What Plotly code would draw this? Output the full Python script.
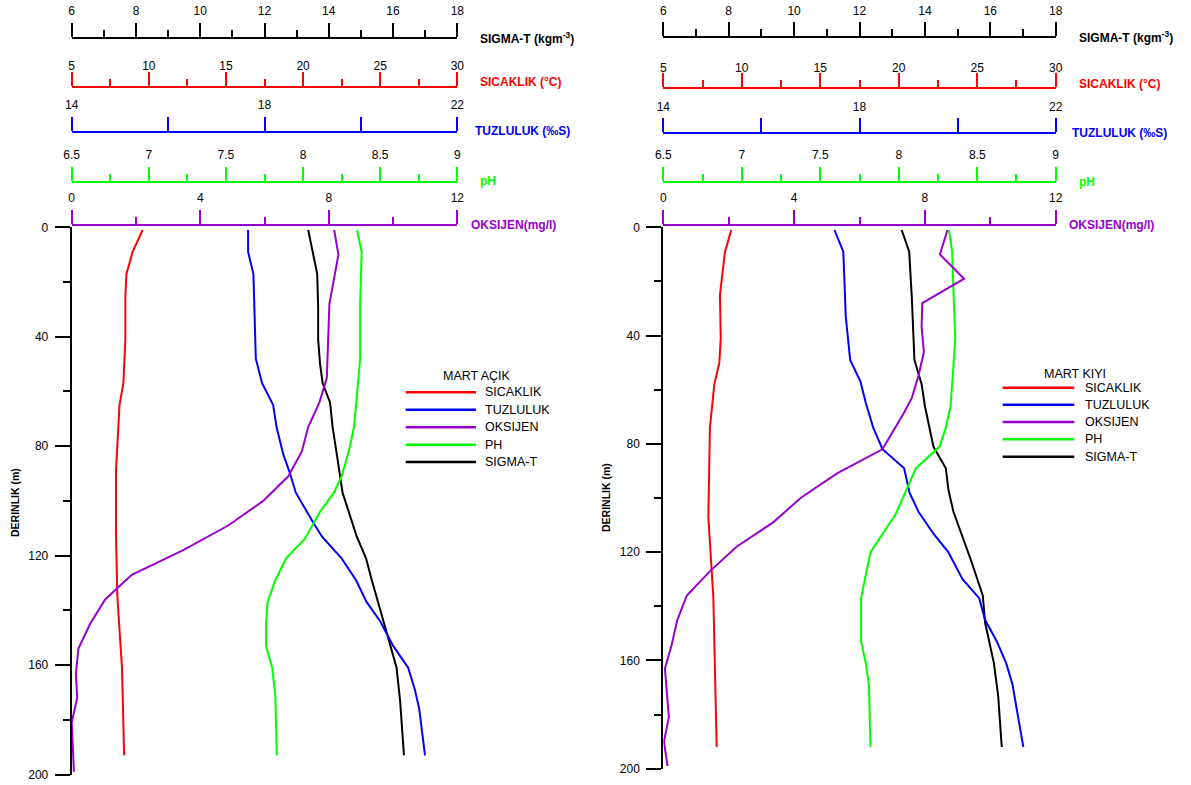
import plotly.graph_objects as go

W, H = 1191, 785
FONT = "Liberation Sans, Arial, sans-serif"

# ---------------- DATA: MART AÇIK (left panel) ----------------
acik_sic_depth = [1, 9, 17, 25, 41, 57, 65, 89, 112, 135, 161, 193]
acik_sic = [9.6, 8.95, 8.55, 8.48, 8.48, 8.35, 8.1, 7.87, 7.87, 7.96, 8.26, 8.4]

acik_tuz_depth = [1, 9, 17, 48, 57, 65, 73, 83, 90, 97, 107, 113, 121, 129, 137, 144, 153, 161, 169, 176, 193]
acik_tuz = [17.66, 17.66, 17.77, 17.82, 17.95, 18.18, 18.25, 18.39, 18.53, 18.65, 18.98, 19.19, 19.6, 19.9,
            20.12, 20.4, 20.67, 20.98, 21.12, 21.21, 21.33]

acik_ph_depth = [1, 9, 28, 48, 61, 73, 81, 91, 97, 104, 114, 121, 129, 137, 145, 153, 161, 171, 193]
acik_ph = [8.35, 8.38, 8.37, 8.37, 8.35, 8.33, 8.30, 8.25, 8.2, 8.11, 8.01, 7.89, 7.82, 7.77, 7.76, 7.76,
           7.80, 7.82, 7.83]

acik_sig_depth = [1, 9, 17, 29, 41, 50, 57, 64, 73, 83, 97, 113, 121, 129, 137, 148, 161, 173, 193]
acik_sig = [13.36, 13.5, 13.64, 13.67, 13.67, 13.73, 13.81, 14.04, 14.12, 14.25, 14.43, 14.87, 15.16, 15.34,
            15.54, 15.8, 16.11, 16.22, 16.34]

acik_oks_depth = [1, 10, 28, 55, 64, 73, 82, 91, 100, 109, 118, 127, 136, 145, 154, 163, 172, 181, 199]
acik_oks = [8.17, 8.3, 8.02, 7.94, 7.71, 7.36, 7.16, 6.74, 5.96, 4.87, 3.47, 1.87, 1.04, 0.57, 0.21, 0.13,
            0.17, 0.0, 0.07]

# ---------------- DATA: MART KIYI (right panel) ----------------
kiyi_sic_depth = [1, 9, 25, 41, 50, 58, 74, 107, 137, 192]
kiyi_sic = [9.33, 8.93, 8.61, 8.66, 8.57, 8.25, 7.97, 7.87, 8.19, 8.4]

kiyi_tuz_depth = [1, 9, 33, 49, 57, 65, 74, 82, 89, 98, 105, 113, 120, 130, 137, 145, 153, 161, 169, 177, 192]
kiyi_tuz = [17.49, 17.67, 17.72, 17.81, 18.02, 18.13, 18.28, 18.47, 18.91, 19.02, 19.2, 19.5, 19.81, 20.1,
            20.44, 20.56, 20.8, 20.99, 21.12, 21.2, 21.34]

kiyi_ph_depth = [1, 9, 26, 41, 50, 66, 74, 81, 89, 106, 120, 137, 153, 161, 169, 192]
kiyi_ph = [8.32, 8.34, 8.35, 8.36, 8.35, 8.33, 8.3, 8.26, 8.11, 7.98, 7.82, 7.76, 7.76, 7.79, 7.81, 7.82]

kiyi_sig_depth = [1, 9, 26, 38, 49, 58, 66, 81, 89, 97, 105, 122, 136, 146, 161, 173, 192]
kiyi_sig = [13.29, 13.52, 13.6, 13.63, 13.68, 13.9, 14.0, 14.26, 14.64, 14.72, 14.87, 15.38, 15.77, 15.84,
            16.11, 16.24, 16.35]

kiyi_oks_depth = [1, 10, 19, 28, 37, 46, 55, 63, 69, 73, 82, 91, 100, 109, 118, 127, 136, 145, 154, 163, 181, 190, 199]
kiyi_oks = [8.69, 8.46, 9.2, 7.92, 7.9, 7.97, 7.8, 7.6, 7.34, 7.14, 6.7, 5.3, 4.2, 3.36, 2.24, 1.43, 0.72,
            0.43, 0.26, 0.05, 0.17, 0.02, 0.13]

# ---------------- AXIS / LABEL TEXT ----------------
legend_names = ["SICAKLIK", "TUZLULUK", "OKSIJEN", "PH", "SIGMA-T"]
panel_titles = ["MART AÇIK", "MART KIYI"]
axis_titles = ["SIGMA-T (kgm<sup>-3</sup>)", "SICAKLIK (°C)", "TUZLULUK (‰S)", "pH", "OKSIJEN(mg/l)"]
depth_title = "DERINLIK (m)"

RED, BLUE, PURPLE, GREEN, BLACK = "#FF0000", "#0000FF", "#9900CC", "#00FF00", "#000000"


def px(x):
    return x / W


def py(y):
    return 1 - y / H


fig = go.Figure()


def add_panel(ax_ids, yid, data, names):
    # ax_ids: [sigma, sic, tuz, ph, oks]
    (sig_d, sig), (sic_d, sic), (tuz_d, tuz), (ph_d, ph), (oks_d, oks) = data
    order = [
        (sic, sic_d, ax_ids[1], RED, names[0]),
        (tuz, tuz_d, ax_ids[2], BLUE, names[1]),
        (oks, oks_d, ax_ids[4], PURPLE, names[2]),
        (ph, ph_d, ax_ids[3], GREEN, names[3]),
        (sig, sig_d, ax_ids[0], BLACK, names[4]),
    ]
    for vals, depth, xa, col, nm in order:
        fig.add_trace(go.Scatter(x=vals, y=depth, xaxis=xa, yaxis=yid, mode="lines",
                                 line=dict(color=col, width=2), name=nm, showlegend=False,
                                 cliponaxis=False))


add_panel(["x", "x2", "x3", "x4", "x5"], "y",
          [(acik_sig_depth, acik_sig), (acik_sic_depth, acik_sic), (acik_tuz_depth, acik_tuz),
           (acik_ph_depth, acik_ph), (acik_oks_depth, acik_oks)], legend_names)
add_panel(["x6", "x7", "x8", "x9", "x10"], "y2",
          [(kiyi_sig_depth, kiyi_sig), (kiyi_sic_depth, kiyi_sic), (kiyi_tuz_depth, kiyi_tuz),
           (kiyi_ph_depth, kiyi_ph), (kiyi_oks_depth, kiyi_oks)], legend_names)


def top_axis(color, rng, dtick, mdtick, pos, dom, overlay, mlen, standoff, tickvals=None):
    d = dict(range=rng, domain=dom, side="top", anchor="free", position=pos,
             showline=True, linecolor=color, linewidth=2, automargin=False,
             ticks="outside", ticklen=14, tickwidth=2, tickcolor=color,
             showgrid=False, zeroline=False, fixedrange=True,
             ticklabelstandoff=standoff,
             tickfont=dict(family=FONT, size=12, color="black"),
             minor=dict(ticks="outside", dtick=mdtick, tick0=rng[0], ticklen=mlen,
                        tickwidth=2, tickcolor=color, showgrid=False))
    if tickvals is not None:
        d["tickmode"] = "array"
        d["tickvals"] = tickvals
    else:
        d["tick0"] = rng[0]
        d["dtick"] = dtick
    if overlay:
        d["overlaying"] = overlay
    return d


def y_axis(dom, anchor):
    return dict(range=[200, 0], domain=dom, anchor=anchor, side="left", automargin=False,
                showline=True, linecolor="black", linewidth=2,
                ticks="outside", ticklen=15, tickwidth=2, tickcolor="black",
                tick0=0, dtick=40, showgrid=False, zeroline=False, fixedrange=True,
                tickfont=dict(family=FONT, size=12, color="black"),
                ticklabelstandoff=4,
                minor=dict(ticks="outside", dtick=20, tick0=0, ticklen=7, tickwidth=2,
                           tickcolor="black", showgrid=False))


L_dom = [px(71.7), px(457.3)]
R_dom = [px(663.3), px(1055.7)]
L_pos = [py(37.7), py(86.7), py(131.7), py(181.7), py(225)]
R_pos = [py(37.3), py(88.3), py(133.3), py(181.7), py(225)]

layout_axes = {}
for ids, dom, pos, base in [(["xaxis", "xaxis2", "xaxis3", "xaxis4", "xaxis5"], L_dom, L_pos, "x"),
                            (["xaxis6", "xaxis7", "xaxis8", "xaxis9", "xaxis10"], R_dom, R_pos, "x6")]:
    layout_axes[ids[0]] = top_axis(BLACK, [6, 18], 2, 1, pos[0], dom, None, 7, 3)
    layout_axes[ids[1]] = top_axis(RED, [5, 30], 5, 2.5, pos[1], dom, base, 7, -3)
    layout_axes[ids[2]] = top_axis(BLUE, [14, 22], None, 2, pos[2], dom, base, 14, 3, tickvals=[14, 18, 22])
    layout_axes[ids[3]] = top_axis(GREEN, [6.5, 9], 0.5, 0.25, pos[3], dom, base, 7, 3)
    layout_axes[ids[4]] = top_axis(PURPLE, [0, 12], 4, 2, pos[4], dom, base, 7, 3)

layout_axes["yaxis"] = y_axis([py(774.5), py(227.3)], "x")
layout_axes["yaxis2"] = y_axis([py(768.7), py(227.3)], "x6")

annotations = []
shapes = []

# right-hand axis titles
title_cols = [BLACK, RED, BLUE, GREEN, PURPLE]
L_tpos = [(478, 37.7), (478, 81.7), (473, 131), (478, 181), (469, 225)]
R_tpos = [(1077, 37.3), (1077, 84), (1070, 133.3), (1077, 181.7), (1067, 225)]
for tpos in (L_tpos, R_tpos):
    for (tx, ty), txt, col in zip(tpos, axis_titles, title_cols):
        annotations.append(dict(x=px(tx), y=py(ty), xref="paper", yref="paper", text="<b>" + txt + "</b>",
                                showarrow=False, xanchor="left", yanchor="middle",
                                font=dict(family=FONT, size=12, color=col)))

# depth titles
for tx, ty in [(15, 503), (606, 498)]:
    annotations.append(dict(x=px(tx), y=py(ty), xref="paper", yref="paper", text="<b>" + depth_title + "</b>",
                            showarrow=False, textangle=-90, xanchor="center", yanchor="middle",
                            font=dict(family=FONT, size=10.5, color="black")))

# legends (drawn manually to match long line samples)
leg_cols = [RED, BLUE, PURPLE, GREEN, BLACK]
legends = [
    dict(title=panel_titles[0], tx=476.7, ty=375.7, x0=405.7, x1=476.0, xt=483.3,
         ys=[392.3, 409.7, 427.3, 444.7, 462.0]),
    dict(title=panel_titles[1], tx=1075.0, ty=373.5, x0=1002.7, x1=1074.3, xt=1082.7,
         ys=[387.7, 404.7, 422.0, 439.3, 456.7]),
]
for lg in legends:
    annotations.append(dict(x=px(lg["tx"]), y=py(lg["ty"]), xref="paper", yref="paper", text=lg["title"],
                            showarrow=False, xanchor="center", yanchor="middle",
                            font=dict(family=FONT, size=12.5, color="black")))
    for yy, nm, col in zip(lg["ys"], legend_names, leg_cols):
        shapes.append(dict(type="line", xref="paper", yref="paper", x0=px(lg["x0"]), x1=px(lg["x1"]),
                           y0=py(yy), y1=py(yy), line=dict(color=col, width=2.5)))
        annotations.append(dict(x=px(lg["xt"]), y=py(yy), xref="paper", yref="paper", text=nm,
                                showarrow=False, xanchor="left", yanchor="middle",
                                font=dict(family=FONT, size=12.5, color="black")))

fig.update_layout(width=W, height=H, margin=dict(l=0, r=0, t=0, b=0, pad=0, autoexpand=False),
                  paper_bgcolor="white", plot_bgcolor="rgba(0,0,0,0)", showlegend=False,
                  font=dict(family=FONT, size=12, color="black"),
                  annotations=annotations, shapes=shapes, **layout_axes)

fig.write_html("out.html")
